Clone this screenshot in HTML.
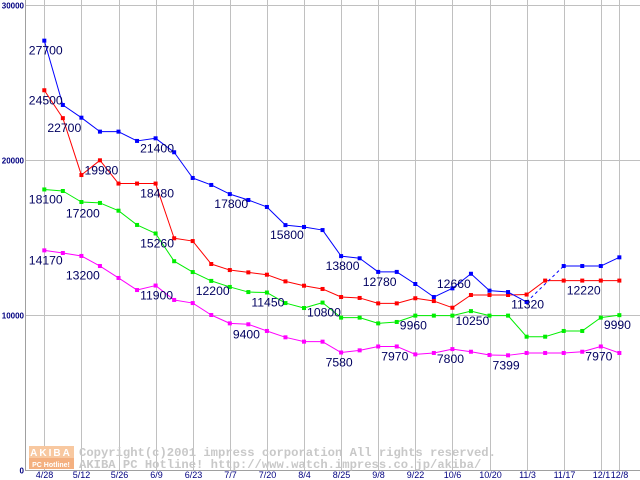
<!DOCTYPE html>
<html><head><meta charset="utf-8"><style>
html,body{margin:0;padding:0;background:#fff;}
svg{display:block;font-family:"Liberation Sans",sans-serif;}
</style></head><body>
<svg id="chart" width="640" height="480" viewBox="0 0 640 480" xmlns="http://www.w3.org/2000/svg">
<g id="grid"></g>
<g id="wm">
  <rect x="29" y="446" width="45" height="12" fill="#f8c8a0"/>
  <rect x="29" y="458" width="45" height="11" fill="#f4b080"/>
  <text x="51" y="456" font-size="10" font-weight="bold" fill="#fff" text-anchor="middle" letter-spacing="2">AKIBA</text>
  <text x="51" y="467" font-size="7" font-weight="bold" fill="#fff" text-anchor="middle">PC Hotline!</text>
  <text x="79" y="456" font-family="Liberation Mono,monospace" font-size="12.2" font-weight="bold" fill="#c8c8c8">Copyright(c)2001 impress corporation All rights reserved.</text>
  <text x="79" y="468" font-family="Liberation Mono,monospace" font-size="12.2" font-weight="bold" fill="#c8c8c8">AKIBA PC Hotline!  http://www.watch.impress.co.jp/akiba/</text>
</g>
<g id="series"></g>
<g id="labels"></g>
</svg>
<script>
const xLabels = ["4/28","5/12","5/26","6/9","6/23","7/7","7/20","8/4","8/25","9/8","9/22","10/6","10/20","11/3","11/17","12/1","12/8"];
const yTicks = [0,10000,20000,30000];
const blue = [27700,23550,22730,21830,21830,21230,21400,20500,18840,18390,17800,17420,16970,15800,15680,15480,13800,13660,12780,12780,12000,11160,11720,12660,11570,11480,10840,null,13160,13160,13160,13720];
const red = [24500,22700,19030,19980,18480,18480,18480,14950,14770,13290,12900,12750,12600,12170,11890,11680,11160,11100,10750,10750,11080,10900,10470,11290,11290,11290,11320,12220,12220,12220,12220,12220];
const green = [18100,18000,17290,17230,16730,15810,15260,13470,12770,12200,11810,11480,11450,10770,10450,10800,9830,9830,9460,9550,9960,9960,9960,10250,9960,9960,8600,8600,8970,8970,9830,9990];
const magenta = [14170,14000,13810,13160,12390,11610,11900,10970,10770,10000,9460,9400,8970,8560,8280,8280,7580,7720,7970,7970,7460,7550,7800,7630,7420,7399,7550,7550,7550,7630,7970,7550];
const labelTexts = ["27700","24500","22700","19980","18480","21400","18100","17200","15260","14170","13200","11900","12200","17800","15800","11450","10800","9400","13800","12780","12660","11320","12220","9960","10250","9990","7580","7970","7800","7399","7970"];
const labelIdx = [0,0,1,3,6,6,0,2,6,0,2,6,9,10,13,12,15,11,16,18,22,26,29,20,23,31,16,19,22,25,30];
const labelVal = [27700,24500,22700,19980,18480,21400,18100,17200,15260,14170,13200,11900,12200,17800,15800,11450,10800,9400,13800,12780,12660,11320,12220,9960,10250,9990,7580,7970,7800,7399,7970];

const NS="http://www.w3.org/2000/svg";
const X0=44.3, DX=18.55, Y0=470, YTOP=5, VMAX=30000;
function xs(i){return X0+DX*i;}
function ys(v){return Y0-(Y0-YTOP)*v/VMAX;}
function mk(tag,attrs,parent){const e=document.createElementNS(NS,tag);for(const k in attrs)e.setAttribute(k,attrs[k]);parent.appendChild(e);return e;}
const grid=document.getElementById('grid');
for(let k=0;k<xLabels.length;k++){
  const idx = k<16? k*2 : 31;
  const x=Math.round(xs(idx))+0.5;
  const l=mk('line',{x1:x,y1:0,x2:x,y2:470,stroke:'#c0c0c0','stroke-width':1},grid);
  
  
  const t=mk('text',{x:x,y:478,'font-size':9,fill:'#000080','text-anchor':'middle'},grid);
  t.textContent=xLabels[k];
  
  
}
for(const v of yTicks){
  const y=Math.round(ys(v))+0.5;
  const l=mk('line',{x1:25,y1:y,x2:640,y2:y,stroke:v===0?'#a0a0a0':'#c0c0c0','stroke-width':1},grid);
  
  
  const t=mk('text',{x:24,y:y+3,'font-size':8,'font-weight':'bold',fill:'#000080','text-anchor':'end'},grid);
  t.textContent=String(v);
  
  
}
const ax=mk('line',{x1:25.5,y1:0,x2:25.5,y2:470,stroke:'#a0a0a0'},grid);



const sg=document.getElementById('series');
function drawSeries(arr,color,name){
  const g=mk('g',{},sg);
  
  
  let prev=null,gap=false;
  for(let i=0;i<arr.length;i++){
    if(arr[i]==null){gap=true;continue;}
    if(prev!==null){
      const ln=mk('line',{x1:xs(prev),y1:ys(arr[prev]),x2:xs(i),y2:ys(arr[i]),stroke:color,'stroke-width':1},g);
      if(gap)ln.setAttribute('stroke-dasharray','3,3');
      
      
    }
    prev=i;gap=false;
  }
  for(let i=0;i<arr.length;i++){
    if(arr[i]==null)continue;
    const r=mk('rect',{x:xs(i)-2,y:ys(arr[i])-2,width:4,height:4,fill:color},g);
    
    
  }
}
drawSeries(magenta,'#ff00ff','magenta-series');
drawSeries(green,'#00ee00','green-series');
drawSeries(red,'#ff0000','red-series');
drawSeries(blue,'#0000ff','blue-series');

const lg=document.getElementById('labels');
for(let j=0;j<labelTexts.length;j++){
  const x=xs(labelIdx[j])-15.5, y=ys(labelVal[j])+14;
  const t=mk('text',{x:x,y:y,'font-size':12.2,fill:'#000060'},lg);
  t.textContent=labelTexts[j];
  
  
}
</script>
</body></html>
